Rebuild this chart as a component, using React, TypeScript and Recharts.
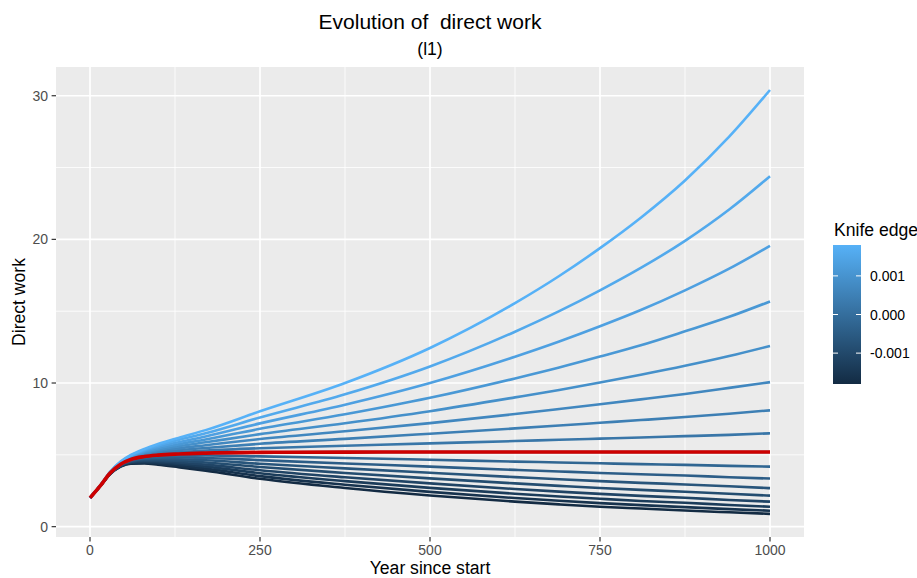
import { LineChart, Line, XAxis, YAxis, CartesianGrid } from 'recharts';

const years = [0, 15, 30, 45, 60, 80, 100, 130, 170, 250, 375, 500, 625, 690, 750, 810, 875, 940, 1000];

// knife edge parameter of each path (dark -> light)
const knifeEdge = [
  -0.0018, -0.001575, -0.00135, -0.001125, -0.0009, -0.000675, -0.00045, -0.000225, 0,
  0.000225, 0.00045, 0.000675, 0.0009, 0.001125, 0.00135, 0.001575, 0.0018,
];

const workM8 = [2.0, 2.82, 3.68, 4.18, 4.39, 4.4, 4.31, 4.14, 3.9, 3.33, 2.69, 2.17, 1.74, 1.55, 1.39, 1.26, 1.12, 1.0, 0.89];
const workM7 = [2.0, 2.83, 3.69, 4.2, 4.42, 4.46, 4.39, 4.25, 4.04, 3.52, 2.92, 2.42, 1.99, 1.8, 1.64, 1.5, 1.36, 1.22, 1.11];
const workM6 = [2.0, 2.83, 3.69, 4.22, 4.46, 4.51, 4.47, 4.36, 4.18, 3.72, 3.17, 2.7, 2.29, 2.1, 1.94, 1.79, 1.66, 1.51, 1.39];
const workM5 = [2.0, 2.83, 3.7, 4.24, 4.5, 4.57, 4.55, 4.47, 4.32, 3.93, 3.44, 3.01, 2.62, 2.44, 2.28, 2.14, 2.01, 1.86, 1.74];
const workM4 = [2.0, 2.83, 3.71, 4.26, 4.53, 4.63, 4.63, 4.58, 4.47, 4.15, 3.74, 3.36, 3.01, 2.84, 2.69, 2.56, 2.43, 2.29, 2.16];
const workM3 = [2.0, 2.83, 3.72, 4.29, 4.57, 4.69, 4.72, 4.69, 4.62, 4.38, 4.06, 3.75, 3.45, 3.3, 3.17, 3.05, 2.94, 2.81, 2.68];
const workM2 = [2.0, 2.84, 3.73, 4.31, 4.61, 4.75, 4.8, 4.81, 4.78, 4.63, 4.4, 4.18, 3.95, 3.84, 3.74, 3.65, 3.56, 3.44, 3.35];
const workM1 = [2.0, 2.84, 3.74, 4.33, 4.64, 4.82, 4.89, 4.94, 4.95, 4.89, 4.78, 4.66, 4.53, 4.47, 4.41, 4.35, 4.3, 4.23, 4.18];
const work0 = [2.0, 2.84, 3.75, 4.35, 4.68, 4.88, 4.98, 5.06, 5.12, 5.17, 5.19, 5.2, 5.2, 5.2, 5.2, 5.2, 5.2, 5.2, 5.2];
const workP1 = [2.0, 2.84, 3.76, 4.37, 4.72, 4.94, 5.07, 5.19, 5.3, 5.46, 5.63, 5.8, 5.96, 6.05, 6.13, 6.21, 6.3, 6.39, 6.5];
const workP2 = [2.0, 2.84, 3.77, 4.39, 4.76, 5.01, 5.16, 5.32, 5.48, 5.77, 6.11, 6.47, 6.84, 7.04, 7.23, 7.42, 7.63, 7.86, 8.1];
const workP3 = [2.0, 2.85, 3.78, 4.42, 4.79, 5.07, 5.26, 5.45, 5.67, 6.1, 6.64, 7.21, 7.84, 8.19, 8.52, 8.86, 9.24, 9.66, 10.06];
const workP4 = [2.0, 2.85, 3.79, 4.44, 4.83, 5.14, 5.35, 5.59, 5.87, 6.44, 7.2, 8.04, 9.0, 9.52, 10.04, 10.58, 11.2, 11.88, 12.58];
const workP5 = [2.0, 2.85, 3.8, 4.46, 4.87, 5.21, 5.45, 5.73, 6.07, 6.81, 7.82, 8.97, 10.32, 11.08, 11.84, 12.63, 13.6, 14.61, 15.68];
const workP6 = [2.0, 2.85, 3.81, 4.48, 4.91, 5.28, 5.55, 5.88, 6.28, 7.19, 8.49, 10.0, 11.83, 12.89, 13.95, 15.08, 16.45, 17.96, 19.55];
const workP7 = [2.0, 2.85, 3.82, 4.5, 4.95, 5.35, 5.65, 6.03, 6.5, 7.6, 9.21, 11.15, 13.57, 15.0, 16.45, 18.01, 19.9, 22.08, 24.4];
const workP8 = [2.0, 2.86, 3.83, 4.53, 4.99, 5.41, 5.75, 6.18, 6.72, 8.03, 10.0, 12.44, 15.56, 17.45, 19.39, 21.51, 24.1, 27.15, 30.4];

const xTicks = [0, 250, 500, 750, 1000];
const yTicks = [0, 10, 20, 30];
const xMinor = [125, 375, 625, 875];
const yMinor = [5, 15, 25];
const legendTicks = [0.001, 0, -0.001];

const paths = [
  workM8, workM7, workM6, workM5, workM4, workM3, workM2, workM1, work0,
  workP1, workP2, workP3, workP4, workP5, workP6, workP7, workP8,
];
const KNIFE_INDEX = 8;

const rows = years.map((year, i) => {
  const row: Record<string, number> = { year };
  paths.forEach((p, j) => {
    row[`p${j}`] = p[i];
  });
  return row;
});

const FONT = "'Liberation Sans', Arial, Helvetica, sans-serif";
const LOW = [0x13, 0x2b, 0x43];
const HIGH = [0x56, 0xb1, 0xf7];
const kMin = Math.min(...knifeEdge);
const kMax = Math.max(...knifeEdge);

function colorFor(v: number) {
  const t = (v - kMin) / (kMax - kMin);
  const c = LOW.map((lo, i) => Math.round(lo + (HIGH[i] - lo) * t));
  return `rgb(${c[0]},${c[1]},${c[2]})`;
}

// colour bar geometry
const BAR_X = 833;
const BAR_Y = 245;
const BAR_W = 28;
const BAR_H = 139;
const barY = (v: number) => BAR_Y + ((kMax - v) / (kMax - kMin)) * BAR_H;

export default function App() {
  return (
    <div style={{ position: 'absolute', left: 0, top: 0, width: 917, height: 578, background: '#fff', fontFamily: FONT }}>
      <LineChart width={917} height={578} data={rows} margin={{ top: 67, right: 113, bottom: 11, left: 16 }}>
        <CartesianGrid
          fill="#EBEBEB"
          stroke="#FFFFFF"
          strokeWidth={0.85}
          horizontalValues={yMinor}
          verticalValues={xMinor}
        />
        <CartesianGrid fill="none" stroke="#FFFFFF" strokeWidth={1.7} horizontalValues={yTicks} verticalValues={xTicks} />
        <XAxis
          dataKey="year"
          type="number"
          domain={[-50, 1050]}
          ticks={xTicks}
          interval={0}
          height={30}
          axisLine={false}
          tickSize={4.4}
          tickMargin={3.6}
          tickLine={{ stroke: '#333333', strokeWidth: 1.2 }}
          tick={{ fill: '#4D4D4D', fontSize: 14, fontFamily: FONT }}
        />
        <YAxis
          type="number"
          domain={[-0.72, 32]}
          ticks={yTicks}
          interval={0}
          width={40}
          axisLine={false}
          tickSize={4.4}
          tickMargin={3.6}
          tickLine={{ stroke: '#333333', strokeWidth: 1.2 }}
          tick={{ fill: '#4D4D4D', fontSize: 14, fontFamily: FONT }}
        />
        {paths.map((_, j) => (
          <Line
            key={j}
            type="monotone"
            dataKey={`p${j}`}
            stroke={colorFor(knifeEdge[j])}
            strokeWidth={2.6}
            dot={false}
            activeDot={false}
            isAnimationActive={false}
          />
        ))}
        <Line
          type="monotone"
          dataKey={`p${KNIFE_INDEX}`}
          stroke="#CD0000"
          strokeWidth={3.6}
          dot={false}
          activeDot={false}
          isAnimationActive={false}
        />
      </LineChart>

      <svg width={917} height={578} style={{ position: 'absolute', left: 0, top: 0, pointerEvents: 'none' }}>
        <defs>
          <linearGradient id="knifeBar" x1="0" y1="0" x2="0" y2="1">
            <stop offset="0" stopColor={colorFor(kMax)} />
            <stop offset="1" stopColor={colorFor(kMin)} />
          </linearGradient>
        </defs>
        <text x={430} y={28.5} textAnchor="middle" fontSize={21} fill="#000" fontFamily={FONT} style={{ whiteSpace: 'pre' }}>
          Evolution of  direct work
        </text>
        <text x={430} y={55} textAnchor="middle" fontSize={17.6} fill="#000" fontFamily={FONT}>
          (l1)
        </text>
        <text x={430} y={574} textAnchor="middle" fontSize={17.6} fill="#000" fontFamily={FONT}>
          Year since start
        </text>
        <text
          x={24.5}
          y={302}
          textAnchor="middle"
          fontSize={17.6}
          fill="#000"
          fontFamily={FONT}
          transform="rotate(-90 24.5 302)"
        >
          Direct work
        </text>
        <text x={834} y={236} fontSize={17.6} fill="#000" fontFamily={FONT}>
          Knife edge
        </text>
        <rect x={BAR_X} y={BAR_Y} width={BAR_W} height={BAR_H} fill="url(#knifeBar)" />
        {legendTicks.map((v) => (
          <g key={v}>
            <line x1={BAR_X} x2={BAR_X + 5} y1={barY(v)} y2={barY(v)} stroke="#fff" strokeWidth={1} />
            <line x1={BAR_X + BAR_W - 5} x2={BAR_X + BAR_W} y1={barY(v)} y2={barY(v)} stroke="#fff" strokeWidth={1} />
            <text x={870} y={barY(v)} dominantBaseline="central" fontSize={14} fill="#000" fontFamily={FONT}>
              {v.toFixed(3)}
            </text>
          </g>
        ))}
      </svg>
    </div>
  );
}
